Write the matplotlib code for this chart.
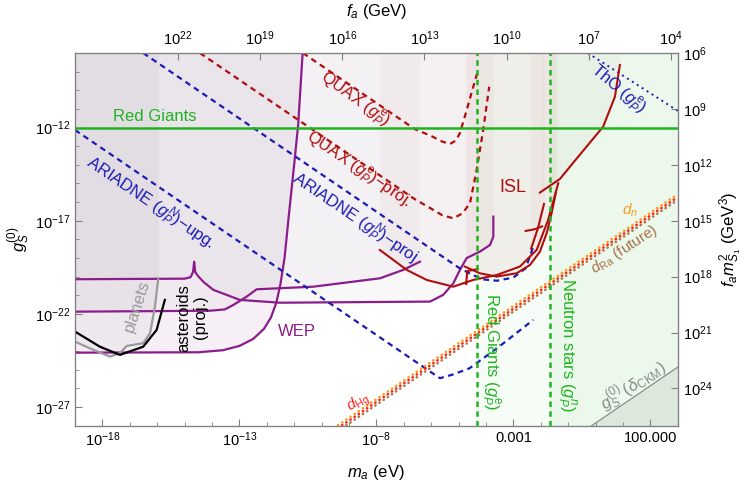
import matplotlib.pyplot as plt
import numpy as np

plt.rcParams['font.family'] = 'Liberation Sans'
plt.rcParams['mathtext.fontset'] = 'custom'
plt.rcParams['mathtext.rm'] = 'Liberation Sans'
plt.rcParams['mathtext.it'] = 'Liberation Sans:italic'
plt.rcParams['mathtext.bf'] = 'Liberation Sans:bold'

# axis ranges (log10)
xlim_log = (-19, 3)
ylim_log = (-28, -8)
fa_times_ma = 5.7e6      # f_a (GeV) * m_a (eV)
g_times_fam2 = 1e-2      # g_S * f_a m_S1^2

# purple WEP / fifth-force curves (log10 m_a, log10 g)
wep_logm = [-19, -14.5, -13.6, -13.0, -12.5, -12.1, -11.85, -11.65, -11.5, -11.35, -11.2, -11.0, -10.85, -10.69]
wep_logg = [-24.08, -24.06, -23.95, -23.72, -23.35, -22.8, -22.2, -21.4, -20.4, -19.0, -16.8, -14.0, -11.8, -8.0]
ptop_logm = [-19, -15.0, -14.78, -14.69, -14.65, -14.61, -14.52, -14.3, -13.95, -12.98, -11.52, -6.04, -5.56,
             -5.19, -4.95, -4.70, -4.22, -3.85, -3.73, -3.73]
ptop_logg = [-20.14, -20.11, -20.03, -19.75, -19.2, -19.75, -19.95, -20.3, -20.71, -21.25, -21.4, -21.34, -20.98,
             -20.36, -19.64, -19.0, -18.66, -18.3, -17.86, -16.78]
pmid_logm = [-19, -14.07, -13.53, -13.22, -12.73, -12.37, -10.3, -7.87, -7.02, -6.41]
pmid_logg = [-21.88, -21.83, -21.76, -21.52, -21.07, -20.68, -20.54, -20.09, -19.64, -19.2]

# planets (grey) and asteroids proj. (black)
planets_logm = [-19, -18.33, -17.72, -17.36, -17.11, -16.51, -16.26, -16.08, -15.96]
planets_logg = [-23.49, -23.93, -24.29, -24.11, -23.72, -23.57, -23.04, -21.61, -20.09]
aster_logm = [-19, -18.09, -17.36, -16.51, -16.02, -15.72]
aster_logg = [-22.95, -23.76, -24.2, -23.76, -22.86, -21.25]

# ARIADNE (blue dashed)
ari_proj_logm = [-16.51, -5.0, -4.5, -4.1, -3.6, -3.0, -2.55, -2.27]
ari_proj_logg = [-8.0, -19.51, -19.9, -20.15, -20.22, -20.05, -19.55, -18.4]
ari_upg_logm = [-19, -6.05, -5.68, -5.2, -4.6, -3.6, -2.27]
ari_upg_logg = [-12.13, -25.08, -25.45, -25.25, -24.92, -23.85, -22.32]

# ThO (blue dotted)
tho_logm = [-0.28, 3.0]
tho_logg = [-8.0, -11.1]

# QUAX (red dashed)
quax_logm = [-10.68, -6.6, -6.0, -5.6, -5.31, -5.1, -4.95, -4.7, -4.5, -4.3]
quax_logg = [-8.0, -12.08, -12.45, -12.75, -12.88, -12.7, -12.3, -11.06, -10.0, -9.0]
quaxp_logm = [-14.44, -6.6, -6.0, -5.6, -5.19, -4.85, -4.58, -4.34, -4.10, -3.88]
quaxp_logg = [-8.0, -15.84, -16.35, -16.7, -16.87, -16.6, -16.05, -14.28, -12.13, -9.81]

# ISL (dark red solid)
isl1_logm = [-2.03, -1.30, -0.82, -0.33, 0.28, 0.71, 0.89]
isl1_logg = [-15.49, -14.76, -13.9, -13.03, -11.95, -10.34, -8.64]
isl2_logm = [-7.87, -6.89, -6.16, -5.19, -4.47, -3.60, -2.76, -2.15, -1.73, -1.36]
isl2_logg = [-18.57, -19.64, -20.18, -20.54, -20.18, -19.91, -19.46, -18.57, -16.96, -14.99]
isl3_logm = [-4.77, -4.22, -3.61, -2.88, -2.39, -2.03, -1.78, -1.60, -1.45]
isl3_logg = [-19.46, -19.82, -20.0, -19.82, -19.37, -18.66, -17.66, -16.58, -15.51]
isl4a_logm = [-2.55, -2.2, -1.95]
isl4a_logg = [-17.55, -17.45, -17.3]
isl4b_logm = [-2.35, -2.1, -1.88]
isl4b_logg = [-18.5, -17.4, -16.1]
isl5_logm = [-4.72, -4.68, -4.3]
isl5_logg = [-20.4, -19.7, -19.6]

# astrophysical bounds
rg_g = 1e-12
rg_pe_logm = -4.33
ns_pn_logm = -1.66

# EDM lines (dotted) and CKM line
dhg_logm = [-9.4, 3.0]
dhg_logg = [-28.13, -15.73]
dn_logm = [-9.4, 3.0]
dn_logg = [-27.98, -15.58]
dra_logm = [-9.4, 3.0]
dra_logg = [-28.28, -15.88]
ckm_logm = [-0.14, 3.0]
ckm_logg = [-28.0, -24.86]

P = lambda a: 10.0 ** np.asarray(a, dtype=float)

purple = '#8b1c8b'
red = '#b00e0e'
blue = '#1c1cb4'
green = '#1fb41f'

fig = plt.figure(figsize=(7.49, 4.82), dpi=100)
ax = fig.add_axes([0.1001, 0.1168, 0.8047, 0.7732])
ax.set_xscale('log')
ax.set_yscale('log')
xmin, xmax = P(xlim_log[0]), P(xlim_log[1])
ymin, ymax = P(ylim_log[0]), P(ylim_log[1])
ax.set_xlim(xmin, xmax)
ax.set_ylim(ymin, ymax)

# shaded regions
ax.axvspan(P(rg_pe_logm), xmax, color=green, alpha=0.04, lw=0, zorder=0)
ax.axvspan(P(ns_pn_logm), xmax, color=green, alpha=0.05, lw=0, zorder=0)
ax.fill_between(P(wep_logm), P(wep_logg), ymax, color='#b070b0', alpha=0.10, lw=0, zorder=0)
ax.fill_between(P(pmid_logm), P(pmid_logg), ymax, color='#9a8aa0', alpha=0.06, lw=0, zorder=0)
ax.fill_between(P(ptop_logm), P(ptop_logg), ymax, color='#9a8aa0', alpha=0.06, lw=0, zorder=0)
ax.fill_between(P(planets_logm), P(planets_logg), ymax, color='#808080', alpha=0.07, lw=0, zorder=0)
for lm, lg in [(isl1_logm, isl1_logg), (isl2_logm, isl2_logg), (isl3_logm, isl3_logg),
               (isl4b_logm, isl4b_logg), (isl5_logm, isl5_logg)]:
    ax.fill_between(P(lm), P(lg), ymax, color='#b06060', alpha=0.045, lw=0, zorder=0)
ax.fill_between(P(ckm_logm), ymin, P(ckm_logg), color='#708070', alpha=0.13, lw=0, zorder=0)
ax.plot(P(ckm_logm), P(ckm_logg), color='#8a8a8a', lw=0.9, zorder=2)

# curves
for lm, lg in [(wep_logm, wep_logg), (ptop_logm, ptop_logg), (pmid_logm, pmid_logg)]:
    ax.plot(P(lm), P(lg), color=purple, lw=1.6, zorder=3)
ax.plot(P(planets_logm), P(planets_logg), color='#9a9a9a', lw=1.6, zorder=3)
ax.plot(P(aster_logm), P(aster_logg), color='black', lw=1.6, zorder=3)

dash = (0, (2.6, 2.0))
ax.plot(P(ari_proj_logm), P(ari_proj_logg), color=blue, lw=1.6, ls=dash, zorder=3)
ax.plot(P(ari_upg_logm), P(ari_upg_logg), color=blue, lw=1.6, ls=dash, zorder=3)
ax.plot(P(tho_logm), P(tho_logg), color=blue, lw=1.4, ls=(0, (1, 2)), zorder=3)
ax.plot(P(quax_logm), P(quax_logg), color=red, lw=1.6, ls=dash, zorder=3)
ax.plot(P(quaxp_logm), P(quaxp_logg), color=red, lw=1.6, ls=dash, zorder=3)
for lm, lg in [(isl1_logm, isl1_logg), (isl2_logm, isl2_logg), (isl3_logm, isl3_logg),
               (isl4a_logm, isl4a_logg), (isl4b_logm, isl4b_logg), (isl5_logm, isl5_logg)]:
    ax.plot(P(lm), P(lg), color=red, lw=1.5, zorder=3)

for lm, lg, c in [(dn_logm, dn_logg, '#ff9a1a'), (dhg_logm, dhg_logg, '#ff2020'), (dra_logm, dra_logg, '#b07a48')]:
    ax.plot(P(lm), P(lg), color=c, lw=1.9, ls=(0, (0.1, 1.8)), dash_capstyle='round', zorder=3)

ax.axhline(rg_g, color=green, lw=1.8, zorder=4)
ax.axvline(P(rg_pe_logm), color=green, lw=1.8, ls=(0, (2.2, 1.7)), zorder=4)
ax.axvline(P(ns_pn_logm), color=green, lw=1.8, ls=(0, (2.2, 1.7)), zorder=4)

# labels
def lab(lm, lg, s, c, rot=0, fs=12, **kw):
    ax.text(P(lm), P(lg), s, color=c, rotation=rot, fontsize=fs, ha='center', va='center',
            rotation_mode='anchor', zorder=5, **kw)

lab(-16.08, -11.38, 'Red Giants', green)
lab(-16.26, -16.05, r'ARIADNE ($g_P^N$)$-$upg.', blue, -34)
lab(-8.78, -16.85, r'ARIADNE ($g_P^N$)$-$proj', blue, -34)
lab(-8.78, -10.52, r'QUAX ($g_P^{\rm e}$)', red, -36)
lab(-8.67, -14.28, r'QUAX ($g_P^{\rm e}$)$-$proj.', red, -34)
lab(-3.01, -15.24, 'ISL', red, 0, 13)
lab(0.82, -9.98, r'ThO ($g_P^{\rm e}$)', blue, -40)
lab(1.26, -16.45, r'$d_n$', '#ff9a1a', 0, 11)
lab(1.07, -18.57, r'$d_{\rm Ra}$ (future)', '#a8744a', 33, 11)
lab(-8.67, -26.78, r'$d_{\rm Hg}$', '#ff2020', 30, 11)
lab(1.36, -25.87, r'$g_S^{(0)}\,(\delta_{\rm CKM})$', '#8a8a8a', 33, 12)
lab(-10.9, -22.97, 'WEP', purple, 0, 12)
lab(-16.74, -21.57, 'planets', '#9a9a9a', 72, 12)
lab(-14.73, -22.2, 'asteroids\n(proj.)', 'black', 90, 12, linespacing=1.1)
lab(-3.85, -24.04, r'Red Giants ($g_P^{\rm e}$)', green, -90, 12)
lab(-1.08, -23.67, r'Neutron stars ($g_P^n$)', green, -90, 12)

# axes / ticks
gray = '#808080'
for sp in ax.spines.values():
    sp.set_color(gray)
ax.set_xticks(P([-18, -13, -8, -3, 2]))
ax.set_xticklabels([r'$10^{-18}$', r'$10^{-13}$', r'$10^{-8}$', '0.001', '100.000'])
ax.set_xticks(P(np.arange(-19, 4)), minor=True)
ax.set_yticks(P([-12, -17, -22, -27]))
ax.set_yticklabels([r'$10^{-12}$', r'$10^{-17}$', r'$10^{-22}$', r'$10^{-27}$'])
ax.set_yticks(P(np.arange(-28, -7)), minor=True)
ax.xaxis.set_minor_formatter(plt.NullFormatter())
ax.yaxis.set_minor_formatter(plt.NullFormatter())
ax.tick_params(which='both', direction='in', labelsize=10.5, color=gray, top=False, right=False)
ax.tick_params(which='major', length=5)
ax.tick_params(which='minor', length=3)
ax.set_xlabel(r'$m_a$ (eV)', fontsize=12, labelpad=10)
ax.set_ylabel(r'$g_S^{(0)}$', fontsize=12, labelpad=2)

axt = ax.twiny()
axt.set_xscale('log')
axt.set_xlim(fa_times_ma / xmin, fa_times_ma / xmax)
fa_ticks = [22, 19, 16, 13, 10, 7, 4]
axt.set_xticks(P(fa_ticks))
axt.set_xticklabels([r'$10^{%d}$' % t for t in fa_ticks])
axt.xaxis.set_minor_locator(plt.NullLocator())
axt.tick_params(direction='in', length=5, labelsize=10.5, color=gray)
axt.set_xlabel(r'$f_a$ (GeV)', fontsize=12, labelpad=10)

axr = ax.twinx()
axr.set_yscale('log')
axr.set_ylim(g_times_fam2 / ymin, g_times_fam2 / ymax)
r_ticks = [6, 9, 12, 15, 18, 21, 24]
axr.set_yticks(P(r_ticks))
axr.set_yticklabels([r'$10^{%d}$' % t for t in r_ticks])
axr.yaxis.set_minor_locator(plt.NullLocator())
axr.tick_params(direction='in', length=5, labelsize=10.5, color=gray)
axr.set_ylabel(r'$f_a m_{S_1}^2$ (GeV$^3$)', fontsize=12, labelpad=4)
for a in (axt, axr):
    for sp in a.spines.values():
        sp.set_color(gray)

fig.savefig('out.png', dpi=100)
